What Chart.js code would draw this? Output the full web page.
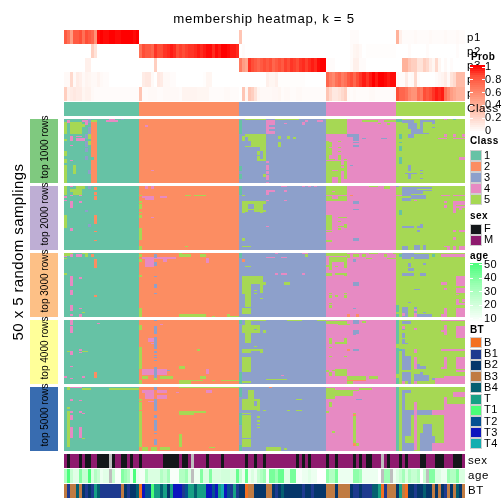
<!DOCTYPE html>
<html>
<head>
<meta charset="utf-8">
<title>membership heatmap</title>
<script src="https://cdn.jsdelivr.net/npm/chart.js@4"></script>
<style>
  html, body { margin: 0; padding: 0; background: #fff; }
  canvas { display: block; }
</style>
</head>
<body>
<canvas id="heat" width="504" height="504"></canvas>
<script>
// 133 samples, split into 5 classes
var classSizes = [25, 33, 29, 23, 23];
var classNames = ['1', '2', '3', '4', '5'];
var sideLabels = ['top 1000 rows', 'top 2000 rows', 'top 3000 rows', 'top 4000 rows', 'top 5000 rows'];
var probTicks = [1, 0.8, 0.6, 0.4, 0.2, 0];
var ageTicks = [50, 40, 30, 20, 10];
var sexNames = ['F', 'M'];
var btNames = ['B', 'B1', 'B2', 'B3', 'B4', 'T', 'T1', 'T2', 'T3', 'T4'];

var p1 = [
  .8,.7,.5,.8,.8,.85,.7,.85,.8,.75,
  .55,.98,1,.98,.98,1,1,.98,.98,1,
  1,1,1,.98,1,0,0,0,0,0,
  0,0,0,0,0,0,0,0,0,0,
  0,0,0,0,0,0,0,0,0,0,
  0,0,0,0,0,0,0,0,.3,0,
  0,0,0,0,0,0,0,0,0,0,
  0,0,0,0,0,0,0,0,0,0,
  0,0,0,0,0,0,0,0,0,0,
  0,0,0,0,0,.02,.02,.02,0,0,
  0,0,0,0,0,0,0,0,0,0,
  .4,.08,.02,.02,.02,.02,.03,.02,.02,.02,
  .02,.03,.02,.02,.02,.02,.03,.02,.02,.02,
  .03,.02,.02
];
var p2 = [
  0,0,0,0,0,0,0,0,0,.25,
  .15,0,0,0,0,0,0,0,0,0,
  0,0,0,0,0,.7,.85,.8,.8,.75,
  .9,.85,.85,.9,.92,.95,.92,.85,.88,.85,
  .88,.9,.9,.92,.95,.92,.95,.98,.98,.92,
  .98,.95,1,1,.98,.95,.95,.92,0,.02,
  0,0,0,0,0,0,0,0,0,0,
  0,0,0,0,0,0,0,0,0,0,
  0,0,0,0,0,0,0,0,0,0,
  0,0,0,0,0,.02,.05,.06,.03,0,
  .01,.01,.01,.01,.01,.01,.01,.01,.01,.01,
  0,0,0,0,.02,0,0,0,0,0,
  .02,0,0,0,0,0,0,0,0,0,
  .02,0,0
];
var p3 = [
  0,0,0,0,0,0,0,.08,.08,0,
  0,0,0,0,0,0,0,0,0,0,
  0,0,0,0,0,0,0,0,0,0,
  .25,0,0,0,0,0,0,0,0,0,
  0,0,0,0,0,0,0,0,0,0,
  0,0,0,0,0,0,0,0,.65,.5,
  .45,.9,.85,.8,.75,.8,.85,.8,.85,.75,
  .8,.85,.8,.88,.85,.9,.88,.85,.9,.92,
  .88,.92,.95,.92,.98,1,1,.02,.02,.02,
  0,0,0,0,0,.02,.08,.08,.02,.02,
  0,0,0,0,0,0,0,0,0,0,
  0,0,.4,.4,.3,.25,.25,.15,.15,.25,
  .2,.1,.05,.2,.05,0,.03,0,.02,0,
  0,0,0
];
var p4 = [
  .03,.03,.2,.03,.1,.08,.03,.06,.05,.03,
  .03,.06,.03,.02,.02,0,0,0,0,0,
  0,0,0,0,0,0,.1,.12,.12,.03,
  0,.12,.1,.03,.03,.02,.02,0,0,0,
  0,0,0,0,0,0,.01,.05,.05,0,
  0,0,0,0,0,0,0,0,0,0,
  0,0,0,0,0,0,0,.08,.05,.05,
  .08,.01,.01,.01,.01,.01,.01,.01,.01,.01,
  0,0,0,0,0,0,0,.75,.65,.6,
  .7,.75,.65,.7,.8,.85,.75,.85,.9,.95,
  .9,.95,1,.95,1,1,.98,.95,.98,.98,
  .03,.02,.02,.1,.02,.03,.2,.02,0,0,
  0,0,0,.02,.04,.06,.1,.03,.15,.2,
  .35,.35,.35
];
var p5 = [
  .25,.08,.1,.12,.1,.1,.05,.07,.07,.03,
  .02,.02,.02,.02,.02,.02,.02,.02,.02,.02,
  .02,.02,.02,.02,.02,.3,.02,.02,.03,.03,
  .03,.02,.02,.03,.03,.03,.03,.03,.02,.06,
  .06,.06,.06,.06,.05,.05,.05,.05,.02,.02,
  .02,.02,.02,.03,.03,.02,.02,.02,0,.3,
  .05,.3,.25,.15,.05,.03,.03,.03,.03,.04,
  .04,.05,.02,.03,.03,.02,.02,.03,.03,.02,
  .02,.02,.02,.02,.02,.02,.02,.3,.2,.12,
  .12,.15,.2,.25,.03,.02,.03,.02,.02,.02,
  .02,.03,.03,.02,.02,.02,.02,.02,.02,.03,
  .85,.75,.75,.7,.6,.55,.55,.7,.65,.85,
  .8,.85,.9,.95,.92,.95,.7,.6,.5,.45,
  .4,.4,.4
];

var sex = [
  'M','F','M','M','M','F','M','F','F','M',
  'M','F','F','F','F',null,'F','M','M','F',
  'F','M','F','M','M','F','M','M','M','M',
  'M','M','M','F','F','F','F','F','M','F',
  'F','M',null,'M','M','M','M','F','M','M',
  'M','M','F','M','M','M','M','M','M','M',
  'F','M','M','F','M','M','F','M','M','M',
  'M','M','M','M','M','M','M','F','M','F',
  'M','F','M','M','M','M','M','F','M','M',
  'F','M','M','M','M','M','F','M','F','M',
  'F','F','M','M','M',null,'M','F','M','M',
  'M','F','M','F','M','M','M','M','F','F',
  'M','M','M','F','F','F','M','M','M','F',
  'F','F','M'
];
var age = [
  30,50,25,18,18,40,25,25,50,20,
  30,25,15,18,18,null,25,12,12,40,
  35,30,15,50,15,13,13,30,20,20,
  20,20,30,25,33,12,12,12,30,30,
  35,20,null,15,15,40,20,20,40,20,
  20,20,22,22,22,20,20,45,25,15,
  45,15,20,15,25,30,35,12,42,42,
  35,45,45,18,18,42,42,12,12,15,
  15,18,15,15,10,10,10,38,30,30,
  42,15,15,15,15,15,38,38,33,15,
  15,15,15,15,10,null,35,35,null,15,
  20,25,33,20,30,25,25,30,10,25,
  null,40,40,20,20,15,15,35,30,30,
  40,20,20
];
var bt = [
  'B3','B1','B3','B3','B4','B3','B2','B1','B2','B1',
  'T','B4','B1','B1','B1','B1','B1','B1','B1','B3',
  'B2','B1','B2','B2','B4','B','T3','T2','T2','T1',
  'T','T','B4','T','B2','T','T3','T3','T3','B1',
  'T2','T','T','B4','T','T','T','T3','T3','T2',
  'T3','T','T4','T3','T2','B1','T','B1','B2','B2',
  'B','B3','B3','B2','B2','B2','B2','B3','B3','B2',
  'B1','B2','B4','B2','B2','B2','B2','B2','B2','B1',
  'B2','B2','B1','B2','B2','B2','B2','B3','B3','B3',
  'B2','B3','B3','B3','B3','B2','B1','B1','B2','B1',
  'B1','B1','B4','B4','T','B','B1','B3','B3','B3',
  'B2','T','B3','B','B2','B2','B1','B2','B2','B4',
  'B2','B2','B3','B2','B3','B2','B1','B3','B2','B3',
  'B4','B2','B3'
];

// patches on top of the class colour: [first col, end col, first row, end row, class]
var panel1Patches = [
  [9,11,2,50,2],[9,11,1,2,5],[9,10,30,32,1],
  [2,6,2,12,5],[0,1,2,12,5],[0,1,16,17,5],[0,1,25,29,5],[0,1,31,34,5],[0,1,36,50,5],[3,4,36,43,5],
  [1,2,1,3,4],[2,3,13,17,4],[4,6,13,14,4],[4,7,15,17,4],[2,3,20,21,4],[2,3,32,33,4],[7,8,1,5,4],[6,7,1,2,4],
  [8,9,0,3,3],[8,9,6,12,3],[7,8,12,16,3],[7,8,17,22,3],[7,8,23,26,3],[7,8,29,32,3],[8,9,40,43,3],
  [8,9,12,16,5],[8,9,17,20,5],[6,7,4,6,5],[14,18,1,2,4],[15,17,0,1,4],[19,20,0,1,3],
  [27,28,5,6,4],[29,30,40,41,4],
  [58,59,1,12,1],[58,59,37,41,1],[58,59,43,47,1],
  [60,65,0,1,5],[59,60,13,17,5],[60,65,12,14,5],[61,65,14,17,5],[62,65,17,22,5],[60,62,21,22,5],[64,65,25,28,5],[64,65,29,33,5],
  [65,67,12,33,5],[65,66,25,31,3],[65,67,0,1,5],[70,78,0,1,5],
  [67,68,1,12,4],[68,70,1,5,4],[68,70,6,8,4],[68,70,9,12,4],[79,80,2,5,4],[73,74,3,4,4],[80,81,1,2,4],[84,86,1,2,4],
  [71,72,13,16,5],[74,75,13,16,5],[76,77,14,16,5],[71,72,18,20,5],[71,72,20,22,5],
  [67,68,33,34,4],[67,68,36,40,4],[67,68,41,43,4],[67,68,44,48,4],[67,68,49,50,4],[66,67,43,45,5],
  [87,94,1,12,5],[87,94,0,1,5],[99,104,1,2,5],[106,110,1,2,5],[104,105,3,4,5],[107,108,3,5,5],
  [94,98,12,14,3],[96,98,14,17,3],[96,98,20,22,3],[96,98,18,19,3],[99,100,15,16,3],[105,107,15,16,3],[95,96,36,37,3],
  [87,88,17,31,5],[91,92,17,18,5],[88,89,18,22,5],[88,89,23,28,5],[91,92,22,23,5],[91,92,25,26,5],[91,92,28,32,5],
  [87,90,31,32,5],[93,94,31,32,5],[87,89,33,50,5],[89,91,33,40,5],[91,92,33,50,5],[92,93,36,37,5],[92,93,38,41,5],
  [93,94,33,47,5],[89,91,41,45,5],
  [110,112,0,2,1],[111,112,12,16,1],[111,112,18,19,1],[111,112,21,25,1],[111,112,30,35,1],
  [112,116,1,3,3],[114,117,3,8,3],[115,118,8,12,3],[114,116,12,15,3],[118,119,1,12,3],[119,123,1,2,3],[122,123,1,4,3],[122,123,6,7,3],[119,121,11,12,3],
  [114,115,36,41,3],[113,117,42,43,3],[114,115,43,47,3],[118,119,40,41,3],[118,119,42,43,3],[118,119,46,47,3],
  [126,127,12,14,4],[129,130,12,14,4],[132,133,12,14,4],[124,127,15,16,4],[129,133,15,16,4],[131,133,30,32,4],[126,127,0,1,4],[129,130,0,1,1]
];
var panel2Patches = [
  [0,1,0,7,5],[0,1,8,9,4],[0,1,11,12,4],[0,1,23,33,5],[3,6,2,7,5],[2,3,2,5,5],[4,7,0,2,5],
  [2,3,0,1,4],[2,3,7,8,4],[5,6,7,8,4],[2,3,12,17,4],[5,6,12,13,4],[2,3,33,35,4],[8,9,30,32,3],
  [10,11,1,3,2],[10,11,5,7,2],[10,11,8,11,2],[10,11,23,30,2],[10,11,35,36,2],[10,11,42,43,2],[8,9,0,2,3],[7,8,19,20,3],
  [25,26,7,8,5],[25,26,12,13,5],[25,26,14,18,5],[25,26,20,21,5],[25,26,23,25,5],[25,26,33,42,5],[25,26,47,50,5],
  [27,30,8,11,4],[27,28,0,2,4],[29,30,0,2,4],[32,34,8,9,4],[29,30,24,25,4],[26,27,8,9,4],
  [40,42,7,8,5],[43,47,7,8,5],[40,41,47,48,5],
  [58,59,0,7,1],[59,60,7,8,5],[59,61,12,20,5],[61,65,12,14,5],[63,65,14,20,5],[61,63,18,19,5],[59,60,20,21,5],[59,60,41,43,5],[59,62,47,48,5],
  [65,66,12,21,5],[65,67,12,14,5],[66,67,19,20,5],
  [67,68,3,7,4],[68,70,3,5,4],[72,74,0,1,4],[79,80,0,1,4],[81,82,0,1,4],[83,84,0,1,4],[73,74,3,5,4],[73,74,11,12,4],[67,68,31,32,4],[67,68,11,12,4],
  [87,94,0,7,5],[89,90,4,5,4],[101,104,0,1,5],[106,108,0,2,5],
  [87,94,7,8,4],[87,89,8,12,5],[91,94,8,12,5],[89,91,10,12,5],
  [87,89,23,34,5],[91,94,24,25,5],[91,92,27,28,5],[91,93,31,32,5],[93,94,30,33,5],[87,89,35,36,5],[87,89,42,44,5],[91,92,33,34,5],
  [96,98,12,14,3],[96,98,18,19,3],[96,98,41,43,3],[95,96,7,8,2],
  [111,112,19,23,1],[110,112,7,8,4],[110,111,0,1,3],
  [112,122,1,4,3],[112,119,4,6,3],[112,115,6,8,3],[115,120,7,10,3],[112,115,9,12,3],[117,123,2,3,5],
  [112,116,31,33,3],[117,119,31,33,3],[118,119,30,31,3],[117,118,34,36,3],[112,114,47,50,3],[116,118,46,50,3],[119,120,46,50,3],
  [116,117,11,12,4],[125,128,7,8,4],[129,133,7,8,4],[129,133,12,13,4],[129,130,13,21,4],[130,133,13,15,4],[130,133,16,17,4],[131,132,17,19,4],[126,127,15,17,4],[126,127,12,13,4],
  [129,130,34,36,4],[131,133,34,36,4],[129,130,40,42,4],[127,128,47,50,4],[129,130,47,50,4],[131,133,47,50,4],[126,127,47,48,4]
];
var panel3Patches = [
  [0,3,0,2,5],[0,1,2,3,4],[2,3,1,3,4],[4,6,1,3,4],[6,8,0,1,5],[7,8,1,3,5],[9,10,1,3,2],[0,1,4,5,5],[10,11,5,12,2],
  [0,1,16,17,5],[2,3,18,26,4],[5,6,19,20,4],[2,3,29,33,4],[10,11,33,34,2],[2,3,41,45,4],[5,6,43,44,4],[6,7,46,47,5],[2,3,48,49,4],[5,6,48,50,4],
  [25,26,1,3,5],[25,26,5,7,5],[25,26,17,19,5],[25,26,43,50,5],
  [26,37,3,5,4],[27,30,5,11,4],[30,31,1,4,3],[30,31,7,10,3],[30,31,18,19,3],[30,31,24,27,3],[30,31,31,32,3],[47,48,4,8,4],[33,34,5,7,4],
  [38,39,0,1,5],[38,42,1,3,5],[45,47,1,3,5],[38,47,48,50,5],[49,50,49,50,5],[54,55,48,50,5],[55,58,49,50,5],
  [58,59,0,4,1],[59,60,5,7,2],[60,62,10,11,5],
  [59,62,18,28,5],[62,66,18,24,5],[65,66,23,31,5],[60,62,24,42,5],[59,60,28,32,5],[59,62,43,48,5],[63,64,29,30,5],[63,64,31,32,5],[65,66,35,36,5],[66,67,23,25,5],
  [70,71,0,1,4],[67,70,3,4,4],[72,74,3,4,4],[79,81,0,1,4],[80,81,1,3,5],[70,71,16,17,4],[72,74,16,17,4],[79,80,16,17,4],[73,75,23,25,5],
  [87,94,0,2,5],[88,94,3,5,5],[87,88,9,11,5],[88,89,5,13,5],[89,93,5,7,5],[93,94,4,12,5],[90,91,10,11,5],[87,89,16,18,5],[90,94,16,17,5],[93,94,16,18,5],
  [94,95,1,4,5],[96,98,1,3,5],[99,100,1,3,5],[101,104,0,1,5],[100,102,4,5,5],[106,107,1,3,5],[107,110,4,5,5],[109,110,0,1,5],
  [96,97,5,7,3],[96,98,23,26,3],[96,97,43,44,3],
  [88,89,31,32,5],[88,89,33,35,5],[90,91,33,34,5],[93,94,31,32,5],[93,94,33,35,5],[88,89,39,40,5],[88,89,41,43,5],
  [94,95,48,50,2],[97,98,48,50,2],
  [110,111,41,46,1],[110,111,48,50,1],[111,112,1,3,1],[122,123,1,3,1],
  [112,116,0,3,3],[112,115,3,5,3],[116,121,1,5,3],[114,115,8,11,3],[114,116,12,14,3],[112,116,16,18,3],[118,120,16,18,3],[119,120,8,9,3],[116,118,28,29,3],[114,115,38,39,3],
  [112,114,42,50,3],[116,117,42,50,3],[117,122,48,50,3],[119,120,46,47,3],
  [125,133,1,3,4],[125,127,23,25,4],[130,133,18,26,4],[126,127,27,29,4],[130,133,27,31,4],[130,131,32,33,4],[130,131,36,41,4],[132,133,36,38,4],[130,133,39,41,4],[130,133,43,50,4],[126,127,43,50,4],[125,126,48,50,4],[112,113,47,49,4],[116,117,44,45,4],[116,117,47,50,4]
];
var panel4Patches = [
  [2,3,0,4,4],[2,3,5,10,4],[11,12,2,3,4],[5,6,23,24,4],[1,2,24,25,5],[6,8,24,25,5],[2,3,24,27,4],[5,6,25,26,4],[2,3,36,37,4],[10,11,41,45,2],[0,1,44,45,4],[6,7,44,45,4],[2,3,45,46,4],
  [25,26,4,8,5],[25,26,21,22,5],[25,26,22,38,5],[25,26,47,50,5],
  [30,31,0,1,3],[30,31,5,11,3],[30,31,13,23,3],[30,31,24,26,3],[30,31,27,28,3],[30,31,29,30,3],[30,31,31,32,3],[30,31,37,45,3],
  [28,30,14,17,4],[29,30,18,19,4],[32,33,3,4,4],[26,30,38,43,4],[31,34,38,43,4],[34,35,39,40,3],[47,48,38,42,4],
  [44,45,23,24,5],[38,40,36,38,5],[26,28,44,46,5],[32,36,44,46,5],[30,31,45,47,5],[45,47,44,46,5],[38,42,47,50,5],[42,46,47,48,5],[49,50,47,48,5],[52,58,47,48,5],
  [58,59,0,3,1],[58,59,41,50,1],
  [60,62,0,4,5],[62,67,0,1,5],[59,65,4,10,5],[60,62,10,18,5],[63,64,7,8,3],[59,62,23,26,5],[62,66,23,24,5],[63,64,20,21,5],[59,62,29,41,5],[59,62,48,49,5],[65,66,24,26,5],
  [66,67,0,1,5],[74,79,0,1,5],[84,87,0,1,5],[66,67,8,10,5],[67,74,46,47,5],[72,73,43,44,4],
  [87,94,1,3,5],[91,95,3,4,5],[88,89,14,19,5],[90,94,17,19,5],[93,94,14,19,5],[88,89,21,22,5],[93,94,28,29,5],[88,89,28,29,5],[87,88,39,41,5],[90,94,38,44,5],[88,89,41,44,5],[89,90,39,40,5],
  [96,98,8,11,3],[96,98,23,24,3],[96,97,11,12,3],[96,98,0,3,3],[94,95,23,24,2],
  [94,100,44,47,5],[101,104,44,46,5],[94,100,47,48,2],[94,96,48,50,5],[99,100,1,2,5],
  [110,111,0,19,1],[110,111,22,42,1],[110,111,45,50,1],[110,112,23,24,1],
  [112,115,1,3,3],[112,113,6,8,3],[112,113,10,14,3],[112,113,15,19,3],[113,114,18,19,3],[112,113,23,39,3],[113,115,28,39,3],[117,118,34,38,3],[118,120,36,38,3],[112,115,41,48,3],[116,118,42,43,3],[116,121,43,48,3],[118,119,41,43,3],[122,124,45,47,3],[114,115,48,50,3],
  [125,133,0,1,4],[112,113,5,7,4],[116,117,6,8,4],[125,126,8,9,4],[126,127,4,12,4],[130,133,5,14,4],[125,133,23,24,4],[116,117,23,26,4],[116,117,29,38,4],[126,127,29,38,4],[130,133,29,38,4],[125,126,37,38,4],[126,133,44,50,4],[123,126,45,50,4],[112,113,48,50,4],[116,117,48,50,4],[130,133,39,41,4]
];
var panel5Patches = [
  [2,6,0,1,4],[1,2,0,2,5],[6,9,1,2,5],[15,25,1,2,5],
  [2,3,9,11,4],[5,6,10,11,4],[1,2,16,17,5],[1,2,19,47,5],[2,3,19,20,4],[5,6,19,20,4],[6,7,20,21,4],[2,3,22,26,4],[2,3,31,40,4],[5,6,31,40,4],[6,7,40,41,5],
  [25,26,9,11,5],[25,26,12,18,5],[25,26,19,47,5],
  [26,30,2,5,4],[27,30,5,9,4],[31,34,2,5,4],[31,34,6,9,4],[37,38,4,5,4],[47,49,2,5,4],[28,30,11,12,4],
  [30,31,0,2,3],[30,31,9,19,3],[30,31,22,24,3],[30,31,26,31,3],[30,31,31,34,3],[30,31,36,37,3],[30,31,41,45,3],
  [38,43,19,22,5],[43,47,19,20,5],[38,39,37,47,5],[26,28,47,50,5],[29,31,47,50,5],[32,35,47,49,5],[48,50,47,48,5],[38,58,0,1,5],
  [58,59,1,8,1],[58,59,20,30,1],[58,59,45,50,1],
  [59,62,9,18,5],[61,62,2,9,5],[59,62,20,21,5],[59,62,22,40,5],[59,62,41,47,5],
  [62,65,9,18,5],[63,64,11,15,3],[62,63,2,9,5],[64,65,18,19,5],[66,67,18,19,5],[64,65,23,24,5],[64,65,26,27,5],[64,65,29,30,5],[64,65,31,32,5],
  [77,79,9,10,5],[77,79,18,19,5],[74,75,18,19,5],[67,72,47,50,5],[73,74,48,49,5],[68,69,0,1,2],
  [87,90,1,9,5],[90,96,2,7,5],[96,98,2,3,5],[88,89,12,16,5],[87,88,19,20,5],[89,90,34,36,5],[96,97,20,45,5],[97,98,44,46,5],
  [97,99,9,10,3],[96,97,21,23,2],[96,97,44,46,2],[98,102,1,2,5],
  [110,111,0,50,1],[112,113,2,50,3],
  [112,115,2,5,3],[113,116,18,22,3],[117,122,18,22,3],[113,115,22,38,3],[119,122,29,50,3],[118,119,36,50,3],[121,123,38,50,3],[113,116,44,50,3],
  [116,117,12,49,4],[126,133,13,50,4],[122,126,18,22,4],[122,126,44,50,4],[126,127,8,13,4],[129,133,4,8,4]
];

var classColors = ['#66C2A5', '#FC8D62', '#8DA0CB', '#E78AC3', '#A6D854'];
var sideColors = ['#7FC97F', '#BEAED4', '#FDC086', '#FFFF99', '#386CB0'];
var sexColors = { F: '#14171A', M: '#8E1A6E' };
var btColors = { B: '#F37021', B1: '#1E3A8F', B2: '#05366A', B3: '#C07B42', B4: '#045F70', T: '#17A085', T1: '#4BFF78', T2: '#045092', T3: '#0C15BE', T4: '#14AEB0' };
var missing = '#BEBEBE';

var colCount = p1.length;
var colPx = 401 / colCount, plotLeft = 64;
var rowsPerPanel = 50, rowPx = 64 / rowsPerPanel;
var panelTops = [119, 186, 253, 320, 387];
var panelPatches = [panel1Patches, panel2Patches, panel3Patches, panel4Patches, panel5Patches];
var probTops = [30, 44, 58, 72, 87], probBottoms = [44, 58, 72, 87, 101];

function mixRamp(stops, t) {
  t = Math.max(0, Math.min(1, t)) * (stops.length - 1);
  var i = Math.min(Math.floor(t), stops.length - 2), f = t - i, a = stops[i], b = stops[i + 1];
  return 'rgb(' + [0, 1, 2].map(function (k) { return Math.round(a[k] + (b[k] - a[k]) * f); }).join(',') + ')';
}
var probRamp = [[255,255,255],[255,228,219],[255,200,183],[255,172,148],[255,142,115],[255,110,84],[255,76,54],[255,0,0]];
function probColor(v) { return mixRamp(probRamp, v); }
function ageColor(v) { return v === null ? missing : mixRamp([[255,255,255],[205,255,215],[150,255,175],[76,255,125]], (v - 10) / 40); }

var datasets = [];
// one block over sample columns, on the column scale
function colBlock(c0, c1, y0, y1, color) {
  var pts = [];
  for (var c = c0; c < c1; c++) pts.push({ x: c, y: [y0, y1] });
  datasets.push({ data: pts, backgroundColor: color, xAxisID: 'x' });
}
// one block outside the plot (side strips, legends), on the page scale
function pageBlock(x0, x1, y0, y1, color) {
  var pts = [];
  for (var x = x0; x < x1; x++) pts.push({ x: x + 0.5, y: [y0, y1] });
  datasets.push({ data: pts, backgroundColor: color, xAxisID: 'xPage' });
}

// probability rows
[p1, p2, p3, p4, p5].forEach(function (vals, r) {
  vals.forEach(function (v, c) { colBlock(c, c + 1, probTops[r], probBottoms[r], probColor(v)); });
});
// class row and panel base colours
var start = 0;
classSizes.forEach(function (n, k) {
  colBlock(start, start + n, 102, 116, classColors[k]);
  panelTops.forEach(function (top) { colBlock(start, start + n, top, top + rowsPerPanel * rowPx, classColors[k]); });
  start += n;
});
// panel patches
panelPatches.forEach(function (patches, i) {
  patches.forEach(function (p) {
    colBlock(p[0], p[1], panelTops[i] + p[2] * rowPx, panelTops[i] + p[3] * rowPx, classColors[p[4] - 1]);
  });
});
// sex, age, BT rows
sex.forEach(function (v, c) { colBlock(c, c + 1, 454, 468, v ? sexColors[v] : missing); });
age.forEach(function (v, c) { colBlock(c, c + 1, 469, 483, ageColor(v)); });
bt.forEach(function (v, c) { colBlock(c, c + 1, 484, 498, btColors[v]); });

// side strips
panelTops.forEach(function (top, i) { pageBlock(30, 58, top, top + 64, sideColors[i]); });

// legends
function swatch(y, color) {
  pageBlock(470, 482, y - 5.5, y + 5.5, '#CFCFCF');
  pageBlock(471, 481, y - 4.5, y + 4.5, color);
}
for (var s = 0; s < 34; s++) {
  pageBlock(470, 485, 65 + s * 2, 67 + s * 2, probColor(1 - s / 33));
}
probTicks.forEach(function (t, i) {
  var y = 67 + i * 12.8;
  pageBlock(470, 473, y - 0.5, y + 0.5, '#FFFFFF');
  pageBlock(482, 485, y - 0.5, y + 0.5, '#FFFFFF');
});
classColors.forEach(function (c, i) { swatch(155.5 + i * 11, c); });
sexNames.forEach(function (n, i) { swatch(229 + i * 11.3, sexColors[n]); });
for (var a = 0; a < 30; a++) {
  pageBlock(470, 482, 263 + a * 2, 265 + a * 2, ageColor(50 - a * 40 / 29));
}
ageTicks.forEach(function (t, i) {
  var y = 264.5 + i * 13.5;
  pageBlock(470, 473, y - 0.5, y + 0.5, '#FFFFFF');
  pageBlock(479, 482, y - 0.5, y + 0.5, '#FFFFFF');
});
btNames.forEach(function (n, i) { swatch(342.8 + i * 11.24, btColors[n]); });

var FONT = '"Liberation Sans", Helvetica, Arial, sans-serif';
function put(ctx, str, x, y, size, opts) {
  opts = opts || {};
  ctx.save();
  ctx.font = (opts.bold ? 'bold ' : '') + size + 'px ' + FONT;
  ctx.fillStyle = '#000';
  ctx.textBaseline = 'middle';
  ctx.textAlign = opts.align || 'left';
  if (opts.spacing) ctx.letterSpacing = opts.spacing + 'px';
  ctx.translate(x, y);
  if (opts.rotate) ctx.rotate(-Math.PI / 2);
  ctx.fillText(str, 0, 0);
  ctx.restore();
}

// snap bars to whole pixels, otherwise neighbouring columns leave pale seams
var snapBars = {
  id: 'snapBars',
  afterDatasetsUpdate: function (chart) {
    chart.getSortedVisibleDatasetMetas().forEach(function (meta) {
      meta.data.forEach(function (bar) {
        var l = Math.round(bar.x - bar.width / 2), r = Math.round(bar.x + bar.width / 2);
        bar.x = (l + r) / 2;
        bar.width = r - l;
        bar.y = Math.round(bar.y);
        bar.base = Math.round(bar.base);
      });
    });
  }
};

// p1..p5 sit under the colour bar, as in the figure
var underLabels = {
  id: 'underLabels',
  beforeDatasetsDraw: function (chart) {
    var ctx = chart.ctx;
    ['p1', 'p2', 'p3', 'p4', 'p5'].forEach(function (t, i) { put(ctx, t, 467, 37.5 + i * 14.2, 11.5, { spacing: 0.6 }); });
  }
};
var overLabels = {
  id: 'overLabels',
  afterDraw: function (chart) {
    var ctx = chart.ctx;
    put(ctx, 'membership heatmap, k = 5', 264, 19, 13.2, { align: 'center', spacing: 0.7 });
    put(ctx, '50 x 5 random samplings', 19, 252, 15, { align: 'center', rotate: true, spacing: 0.4 });
    sideLabels.forEach(function (t, i) { put(ctx, t, 45, panelTops[i] + 28, 10, { align: 'center', rotate: true }); });
    put(ctx, 'Class', 467, 108.5, 11.5, { spacing: 0.6 });
    put(ctx, 'Prob', 471, 57, 10, { bold: true, spacing: 0.4 });
    probTicks.forEach(function (t, i) { put(ctx, String(t), 485, 67 + i * 12.8, 11, { spacing: 0.5 }); });
    put(ctx, 'Class', 470, 141, 10, { bold: true, spacing: 0.4 });
    classNames.forEach(function (t, i) { put(ctx, t, 484, 155.5 + i * 11, 11, { spacing: 0.5 }); });
    put(ctx, 'sex', 470, 216, 10, { bold: true, spacing: 0.4 });
    sexNames.forEach(function (t, i) { put(ctx, t, 484, 229 + i * 11.3, 11, { spacing: 0.5 }); });
    put(ctx, 'age', 470, 256, 10, { bold: true, spacing: 0.4 });
    ageTicks.forEach(function (t, i) { put(ctx, String(t), 484, 264.5 + i * 13.5, 11, { spacing: 0.5 }); });
    put(ctx, 'BT', 470, 330, 10, { bold: true, spacing: 0.4 });
    btNames.forEach(function (t, i) { put(ctx, t, 484, 342.8 + i * 11.24, 11, { spacing: 0.5 }); });
    put(ctx, 'sex', 468, 461, 11.5, { spacing: 0.6 });
    put(ctx, 'age', 468, 476, 11.5, { spacing: 0.6 });
    put(ctx, 'BT', 468, 491, 11.5, { spacing: 0.6 });
  }
};

var colMin = -0.5 - plotLeft / colPx;
new Chart(document.getElementById('heat'), {
  type: 'bar',
  // Chart.js paints dataset 0 last, so flip to keep the patches on top
  data: { datasets: datasets.reverse() },
  plugins: [snapBars, underLabels, overLabels],
  options: {
    responsive: false,
    animation: false,
    events: [],
    layout: { padding: 0 },
    datasets: { bar: { grouped: false, barPercentage: 1, categoryPercentage: 1, borderWidth: 0, inflateAmount: 0 } },
    plugins: { legend: { display: false }, tooltip: { enabled: false }, title: { display: false } },
    scales: {
      x: { type: 'linear', offset: false, min: colMin, max: colMin + 504 / colPx, display: false, grid: { display: false }, ticks: { includeBounds: false, stepSize: 50 } },
      xPage: { type: 'linear', offset: false, min: 0, max: 504, display: false, grid: { display: false }, ticks: { includeBounds: false, stepSize: 100 } },
      y: { type: 'linear', reverse: true, min: 0, max: 504, display: false, grid: { display: false } }
    }
  }
});
</script>
</body>
</html>
